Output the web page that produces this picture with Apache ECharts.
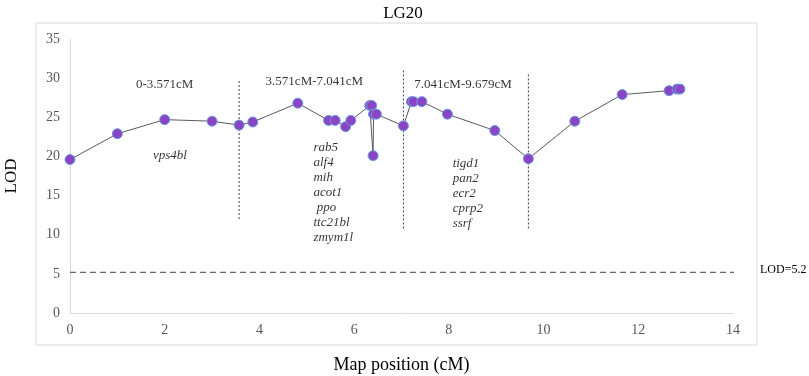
<!DOCTYPE html>
<html>
<head>
<meta charset="utf-8">
<script src="https://cdn.jsdelivr.net/npm/echarts@6/dist/echarts.min.js"></script>
<style>
  html, body { margin: 0; padding: 0; background: #fff; }
  #chart { width: 809px; height: 376px; }
</style>
</head>
<body>
<div id="chart"></div>
<script>
(function (echarts) {
  "use strict";

  // marker positions along LG20 (cM) and LOD scores
  var positions = [0, 1, 2, 3, 3.571, 3.86, 4.81, 5.46, 5.6, 5.82, 5.93, 6.33, 6.37, 6.40, 6.41, 6.47,
    7.041, 7.21, 7.25, 7.43, 7.97, 8.97, 9.679, 10.66, 11.66, 12.65, 12.82, 12.88];
  var lodValues = [19.6, 22.9, 24.7, 24.5, 24.0, 24.4, 26.8, 24.6, 24.6, 23.8, 24.6, 26.5, 26.5, 20.1, 25.4, 25.4,
    23.9, 27.0, 27.0, 27.0, 25.4, 23.3, 19.7, 24.5, 27.9, 28.4, 28.6, 28.6];

  // interval boundaries and the extent of their dashed lines
  var boundaries = [3.571, 7.041, 9.679];
  var boundaryLow = [12.0, 10.8, 10.8];
  var boundaryHigh = [29.8, 31.1, 30.6];

  var threshold = 5.2;
  var thresholdExtent = [0, 14.2];

  var regionLabels = ['0-3.571cM', '3.571cM-7.041cM', '7.041cM-9.679cM'];
  var regionAnchors = [[2.0, 29.2], [5.16, 29.6], [8.3, 29.2]];

  var geneGroups = [
    ['vps4bl'],
    ['rab5', 'alf4', 'mih', 'acot1', ' ppo', 'ttc21bl', 'zmym1l'],
    ['tigd1', 'pan2', 'ecr2', 'cprp2', 'ssrf']
  ];
  var geneAnchors = [[1.75, 21.1], [5.14, 22.1], [8.08, 20.0]];

  var xTicks = [0, 14, 2];
  var yTicks = [0, 35, 5];

  var SERIF = '"Liberation Serif", "Times New Roman", serif';
  var chart = echarts.init(document.getElementById('chart'));

  var series = [];

  boundaries.forEach(function (b, i) {
    series.push({
      type: 'line',
      data: [[b, boundaryLow[i]], [b, boundaryHigh[i]]],
      symbol: 'none',
      silent: true,
      lineStyle: { color: '#404040', width: 1, type: [2, 2] },
      z: 1
    });
  });

  series.push({
    type: 'line',
    data: [[thresholdExtent[0], threshold], [thresholdExtent[1], threshold]],
    symbol: 'none',
    clip: false,
    silent: true,
    lineStyle: { color: '#404040', width: 1, type: [6, 4] },
    z: 1
  });

  series.push({
    type: 'line',
    data: positions.map(function (p, i) { return [p, lodValues[i]]; }),
    symbol: 'circle',
    symbolSize: 10,
    showAllSymbol: true,
    lineStyle: { color: '#5a5a5a', width: 1 },
    itemStyle: { color: '#8a45c4', borderColor: '#6b9de0', borderWidth: 1 },
    z: 3
  });

  series.push({
    type: 'scatter',
    symbolSize: 0,
    silent: true,
    data: regionAnchors.map(function (a, i) { return { value: a, name: regionLabels[i] }; }),
    label: {
      show: true,
      position: [0, 0],
      align: 'center',
      verticalAlign: 'middle',
      formatter: '{b}',
      fontFamily: SERIF,
      fontSize: 13,
      color: '#000'
    }
  });

  series.push({
    type: 'scatter',
    symbolSize: 0,
    silent: true,
    data: geneAnchors.map(function (a, i) { return { value: a, name: geneGroups[i].join('\n') }; }),
    label: {
      show: true,
      position: [0, 0],
      align: 'left',
      verticalAlign: 'top',
      formatter: '{b}',
      fontFamily: SERIF,
      fontStyle: 'italic',
      fontSize: 13,
      lineHeight: 15,
      color: '#000'
    }
  });

  chart.setOption({
    animation: false,
    backgroundColor: '#fff',
    title: {
      text: 'LG20',
      left: 398,
      top: 0,
      textAlign: 'center',
      textStyle: { fontFamily: SERIF, fontSize: 17, fontWeight: 'normal', color: '#000' }
    },
    graphic: [{
      type: 'rect',
      shape: { x: 36, y: 23, width: 721, height: 322 },
      style: { fill: 'none', stroke: '#d9d9d9', lineWidth: 1 },
      z: -1,
      silent: true
    }, {
      type: 'text',
      left: 760,
      top: 264,
      style: { text: 'LOD=' + threshold, font: '12px ' + SERIF, fill: '#000' }
    }],
    grid: { left: 70, right: 76, top: 39, bottom: 63, outerBoundsMode: 'none' },
    xAxis: {
      type: 'value',
      min: xTicks[0],
      max: xTicks[1],
      interval: xTicks[2],
      name: 'Map position (cM)',
      nameLocation: 'middle',
      nameGap: 43,
      nameTextStyle: { fontFamily: SERIF, fontSize: 18, color: '#000' },
      axisLine: { show: true, lineStyle: { color: '#d9d9d9' } },
      axisTick: { show: false },
      splitLine: { show: false },
      axisLabel: { fontFamily: SERIF, fontSize: 14, color: '#595959', margin: 10 }
    },
    yAxis: {
      type: 'value',
      min: yTicks[0],
      max: yTicks[1],
      interval: yTicks[2],
      name: 'LOD',
      nameLocation: 'middle',
      nameGap: 50,
      nameTextStyle: { fontFamily: SERIF, fontSize: 17, color: '#000' },
      axisLine: { show: true, lineStyle: { color: '#d9d9d9' } },
      axisTick: { show: false },
      splitLine: { show: false },
      axisLabel: { fontFamily: SERIF, fontSize: 14, color: '#595959', margin: 10 }
    },
    series: series
  });
})(echarts);
</script>
</body>
</html>
